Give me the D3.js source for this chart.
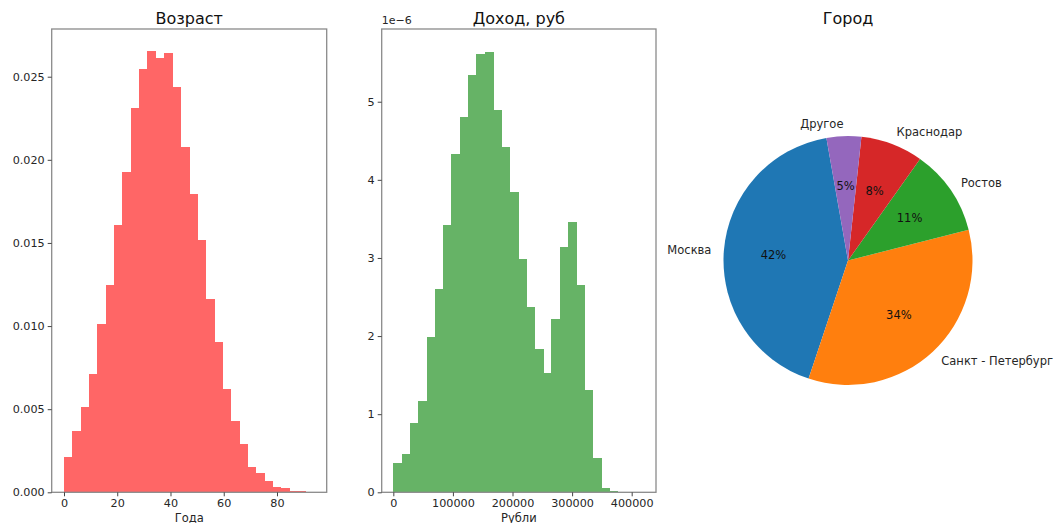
<!DOCTYPE html>
<html><head><meta charset="utf-8">
<script src="https://cdn.jsdelivr.net/npm/d3@7"></script>
<style>body{margin:0;background:#fff}svg{display:block}text{font-family:"DejaVu Sans",sans-serif}</style>
</head><body><svg id="c" width="1056" height="523"></svg>
<script>
// ---- data ----
const ageDensity = [0.00214,0.00366,0.00512,0.00712,0.01014,0.01248,0.0161,0.01928,0.02313,0.02544,
  0.02657,0.0261,0.02645,0.02436,0.02078,0.01797,0.01516,0.01164,0.00904,0.00624,
  0.0043,0.00292,0.00152,0.00114,0.0007,0.00034,0.00024,0.00006,0.0001,0.00004];
const ageRange = [0, 93.9];
const ageTicksX = [0,20,40,60,80];
const ageTicksY = [0,0.005,0.010,0.015,0.020,0.025];

const incomeDensity = [0.372,0.487,0.893,1.167,1.983,2.60,3.42,4.335,4.80,5.34,
  5.61,5.64,4.89,4.42,3.85,2.99,2.376,1.833,1.526,2.222,
  3.14,3.46,2.658,1.312,0.444,0.051,0.017,0.009,0.004,0.008]; // ×1e-6
const incomeRange = [0, 418400];
const incomeTicksX = [0,100000,200000,300000,400000];
const incomeTicksY = [0,1,2,3,4,5];

const cities = ["Москва","Санкт - Петербург","Ростов","Краснодар","Другое"];
const cityShares = [0.421,0.341,0.112,0.081,0.045];
const cityPct = ["42%","34%","11%","8%","5%"];
const cityColors = ["#1f77b4","#ff7f0e","#2ca02c","#d62728","#9467bd"];
const pieStartDeg = 100;

const svg = d3.select("#c");
const plotTop = 29, plotBottom = 492.3;

function hist(opts){
  const g = svg.append("g");
  const x = d3.scaleLinear().domain(opts.xDomain).range([opts.left, opts.right]);
  const y = d3.scaleLinear().domain([0, opts.yMax]).range([plotBottom, plotTop]);
  const n = opts.values.length;
  const step = (opts.range[1]-opts.range[0])/n;
  g.selectAll("rect").data(opts.values).join("rect")
    .attr("x", (d,i)=>x(opts.range[0]+i*step))
    .attr("width", (d,i)=>x(opts.range[0]+(i+1)*step)-x(opts.range[0]+i*step)+0.6)
    .attr("y", d=>y(d)).attr("height", d=>plotBottom-y(d))
    .attr("fill", opts.color).attr("shape-rendering","crispEdges");
  g.append("rect").attr("x",opts.left).attr("y",plotTop).attr("width",opts.right-opts.left).attr("height",plotBottom-plotTop)
    .attr("fill","none").attr("stroke","#8a8a8a").attr("stroke-width",1.3);
  const ax = g.append("g").attr("transform",`translate(0,${plotBottom})`)
    .call(d3.axisBottom(x).tickValues(opts.xTicks).tickSize(4).tickSizeOuter(0).tickFormat(d3.format("d")));
  const ay = g.append("g").attr("transform",`translate(${opts.left},0)`)
    .call(d3.axisLeft(y).tickValues(opts.yTicks).tickSize(4).tickSizeOuter(0).tickFormat(opts.yFmt));
  [ax,ay].forEach(a=>{
    a.select(".domain").remove();
    a.selectAll("line").attr("stroke","#444");
    a.selectAll("text").attr("font-size","11.2px").attr("fill","#262626");
  });
  ax.selectAll("text").attr("dy","0.71em");
  ay.selectAll("text").attr("x",-7);
  g.append("text").attr("x",(opts.left+opts.right)/2).attr("y",24).attr("text-anchor","middle")
    .attr("font-size","16px").attr("fill","#111").text(opts.title);
  g.append("text").attr("x",(opts.left+opts.right)/2).attr("y",521.5).attr("text-anchor","middle")
    .attr("font-size","11.5px").attr("fill","#262626").text(opts.xlabel);
  return g;
}

hist({left:51.7,right:326.7,xDomain:[-4.62,98.67],yMax:0.02787,values:ageDensity,range:ageRange,
  xTicks:ageTicksX,yTicks:ageTicksY,yFmt:d3.format(".3f"),color:"#ff6666",title:"Возраст",xlabel:"Года"});
const g2 = hist({left:381.7,right:656,xDomain:[-19500,440800],yMax:5.931,values:incomeDensity,range:incomeRange,
  xTicks:incomeTicksX,yTicks:incomeTicksY,yFmt:d3.format("d"),color:"#66b366",title:"Доход, руб",xlabel:"Рубли"});
g2.append("text").attr("x",381.7).attr("y",24).attr("font-size","11px").attr("fill","#262626").text("1e\u22126");

// ---- pie ----
const cx = 848, cy = 260.5, R = 124.5;
const a0 = (90 - pieStartDeg) * Math.PI/180;
const pie = d3.pie().sort(null).value(d=>d.v).startAngle(a0).endAngle(a0 - 2*Math.PI);
const arcs = pie(cities.map((c,i)=>({c, v:cityShares[i], col:cityColors[i], p:cityPct[i]})));
const arc = d3.arc().innerRadius(0).outerRadius(R);
const pg = svg.append("g").attr("transform",`translate(${cx},${cy})`);
pg.selectAll("path").data(arcs).join("path").attr("d",arc).attr("fill",d=>d.data.col);
arcs.forEach(a=>{
  const m = (a.startAngle+a.endAngle)/2;
  const sx = Math.sin(m), sy = -Math.cos(m);
  pg.append("text").attr("x",sx*R*1.1).attr("y",sy*R*1.1).attr("dy","0.35em")
    .attr("text-anchor", sx>0?"start":"end").attr("font-size","11.5px").attr("fill","#262626").text(a.data.c);
  pg.append("text").attr("x",sx*R*0.6).attr("y",sy*R*0.6).attr("dy","0.35em")
    .attr("text-anchor","middle").attr("font-size","11.5px").attr("fill","#111").text(a.data.p);
});
svg.append("text").attr("x",cx).attr("y",24).attr("text-anchor","middle").attr("font-size","16px").attr("fill","#111").text("Город");
</script></body></html>
